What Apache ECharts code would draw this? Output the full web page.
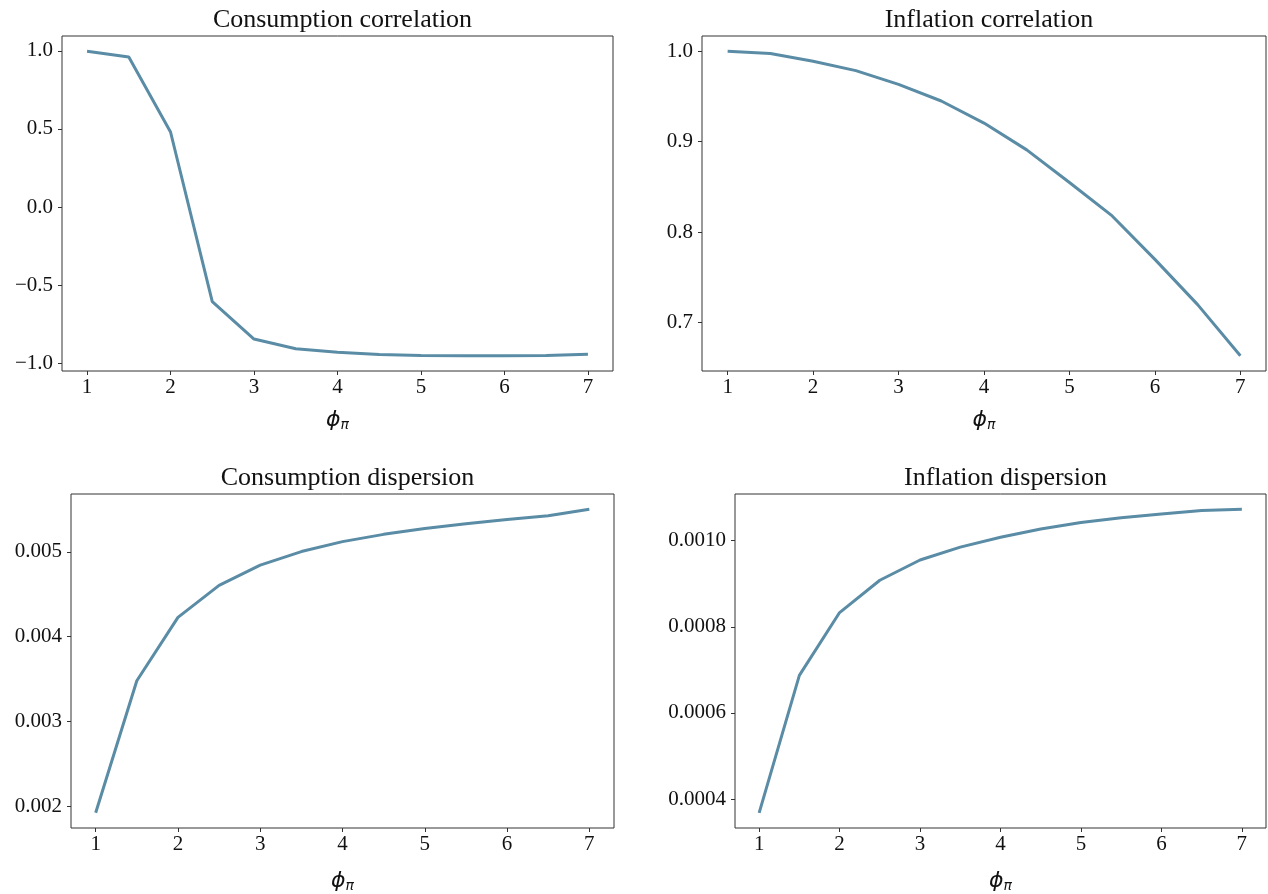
<!DOCTYPE html>
<html>
<head>
<meta charset="utf-8">
<script src="https://cdn.jsdelivr.net/npm/echarts@6/dist/echarts.min.js"></script>
<style>
  html, body { margin: 0; padding: 0; background: #fff; }
  #main { width: 1268px; height: 894px; }
</style>
</head>
<body>
<div id="main"></div>
<script>
// phi_pi grid
let phiValues = [1, 1.5, 2, 2.5, 3, 3.5, 4, 4.5, 5, 5.5, 6, 6.5, 7];

let consCorr = [0.997, 0.96, 0.48, -0.605, -0.845, -0.907, -0.93, -0.944, -0.95, -0.952, -0.952, -0.95, -0.942];
let inflCorr = [1.0, 0.9975, 0.989, 0.9786, 0.9634, 0.945, 0.9206, 0.891, 0.855, 0.818, 0.77, 0.72, 0.6635];
let consDisp = [0.001922, 0.00348, 0.004227, 0.004605, 0.004844, 0.005004, 0.005121, 0.005207, 0.005277, 0.005332, 0.005383, 0.005426, 0.005504];
let inflDisp = [0.000368, 0.000687, 0.000833, 0.000908, 0.000955, 0.000985, 0.001008, 0.001027, 0.001042, 0.001053, 0.001062, 0.00107, 0.001073];

let titles = ["Consumption correlation", "Inflation correlation", "Consumption dispersion", "Inflation dispersion"];
let xTicks = [1, 2, 3, 4, 5, 6, 7];
let yTicks = [
  [-1.0, -0.5, 0.0, 0.5, 1.0],
  [0.7, 0.8, 0.9, 1.0],
  [0.002, 0.003, 0.004, 0.005],
  [0.0004, 0.0006, 0.0008, 0.0010]
];
let yDecimals = [1, 1, 3, 4];

let chart = echarts.init(document.getElementById("main"));

let lineColor = "#5a8ca6";
let serif = "Liberation Serif";
let grids = [
  { left: 62, top: 36, width: 551, height: 335 },
  { left: 702, top: 36, width: 564, height: 335 },
  { left: 71, top: 494, width: 543, height: 335 },
  { left: 735, top: 494, width: 531, height: 335 }
];
let nameGaps = [37, 37, 41, 41];
let allData = [consCorr, inflCorr, consDisp, inflDisp];

// matplotlib-like 5% margins
function pad(arr, lo) {
  let mn = Math.min.apply(null, arr), mx = Math.max.apply(null, arr);
  let m = (mx - mn) * 0.05;
  return lo ? mn - m : mx + m;
}

let option = {
  animation: false,
  backgroundColor: "#fff",
  title: titles.map(function(t, i) {
    return {
      text: t,
      left: grids[i].left + grids[i].width / 2,
      top: grids[i].top - 34,
      textAlign: "center",
      textStyle: { fontFamily: serif, fontSize: 26, fontWeight: "normal", color: "#111" }
    };
  }),
  grid: grids.map(function(g) {
    return Object.assign({ show: true, borderColor: "#333", borderWidth: 1, backgroundColor: "transparent" }, g);
  }),
  xAxis: grids.map(function(g, i) {
    return {
      type: "value",
      gridIndex: i,
      min: 0.7,
      max: 7.3,
      name: "{a|ϕ}{b|π}",
      nameLocation: "middle",
      nameGap: nameGaps[i],
      nameTextStyle: {
        rich: {
          a: { fontFamily: "DejaVu Sans", fontStyle: "italic", fontSize: 22, color: "#111" },
          b: { fontFamily: "DejaVu Sans", fontStyle: "italic", fontSize: 14, color: "#111", padding: [10, 0, 0, 0] }
        }
      },
      axisLine: { show: false, onZero: false },
      splitLine: { show: false },
      axisTick: { show: true, length: 4, customValues: xTicks, lineStyle: { color: "#333" } },
      axisLabel: {
        customValues: xTicks,
        margin: 6,
        fontFamily: serif,
        fontSize: 21,
        color: "#111"
      }
    };
  }),
  yAxis: grids.map(function(g, i) {
    return {
      type: "value",
      gridIndex: i,
      min: pad(allData[i], true),
      max: pad(allData[i], false),
      axisLine: { show: false, onZero: false },
      splitLine: { show: false },
      axisTick: { show: true, length: 4, customValues: yTicks[i], lineStyle: { color: "#333" } },
      axisLabel: {
        customValues: yTicks[i],
        margin: 9,
        fontFamily: serif,
        fontSize: 21,
        color: "#111",
        padding: [3, 0, 0, 0],
        formatter: function(v) {
          return v.toFixed(yDecimals[i]).replace("-", "\u2212");
        }
      }
    };
  }),
  series: allData.map(function(d, i) {
    return {
      type: "line",
      xAxisIndex: i,
      yAxisIndex: i,
      showSymbol: false,
      lineStyle: { color: lineColor, width: 3 },
      data: phiValues.map(function(x, k) { return [x, d[k]]; })
    };
  })
};

chart.setOption(option);
</script>
</body>
</html>
